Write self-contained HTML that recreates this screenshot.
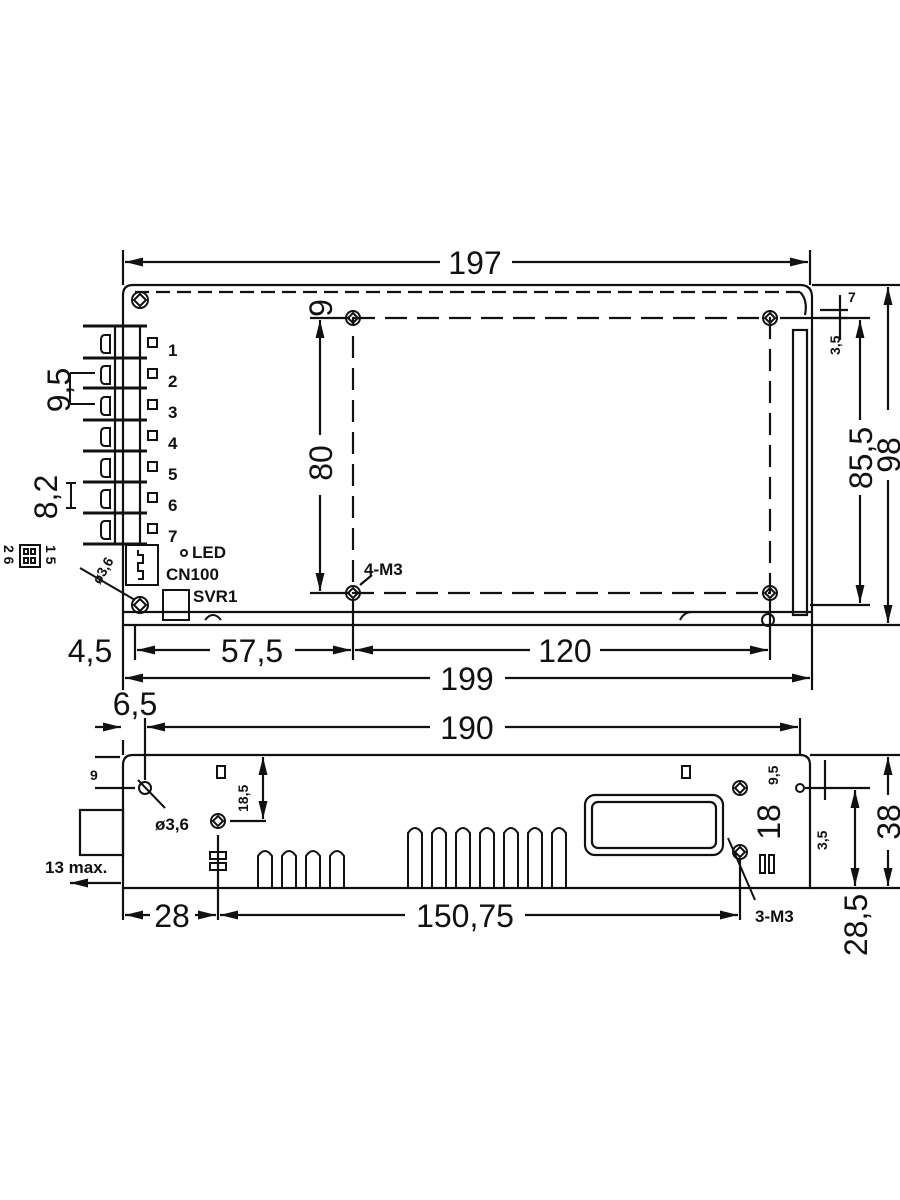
<!DOCTYPE html>
<html><head><style>body{margin:0;background:#fff}svg{display:block}text{font-family:"Liberation Sans",sans-serif;fill:#111}</style></head><body>
<svg width="900" height="1200" viewBox="0 0 900 1200" xmlns="http://www.w3.org/2000/svg">
<defs>
<marker id="a" viewBox="0 0 10 10" refX="10" refY="5" markerWidth="18" markerHeight="9" orient="auto-start-reverse" markerUnits="userSpaceOnUse" preserveAspectRatio="none"><path d="M0,0 L10,5 L0,10z" fill="#111"/></marker>
</defs>
<g stroke="#111" fill="none" stroke-width="2.2">
<path d="M123,295 Q123,285 133,285 L800,285 Q812,285 812,297 L812,625 L123,625 Z"/>
<line x1="123" y1="612" x2="812" y2="612"/>
<path d="M135,292 L800,292" stroke-dasharray="14,7"/>
<rect x="353" y="318" width="417" height="275" stroke-dasharray="22,10"/>
<rect x="793" y="330" width="14" height="285"/>
<path d="M800,292 Q808,300 805,315"/>
<g stroke-width="2">
<circle cx="140" cy="300" r="8"/><circle cx="353" cy="318" r="7"/><circle cx="770" cy="318" r="7"/>
<circle cx="353" cy="593" r="7"/><circle cx="770" cy="593" r="7"/><circle cx="140" cy="605" r="8"/>
<path d="M140,294 l6,6 l-6,6 l-6,-6z M353,313 l5,5 l-5,5 l-5,-5z M770,313 l5,5 l-5,5 l-5,-5z M353,588 l5,5 l-5,5 l-5,-5z M770,588 l5,5 l-5,5 l-5,-5z M140,599 l6,6 l-6,6 l-6,-6z"/>
<circle cx="768" cy="620" r="6"/><path d="M205,620 q8,-10 16,0"/><path d="M680,620 q4,-8 12,-8"/>
</g>
<g stroke-width="3">
<line x1="83" y1="326" x2="147" y2="326"/><line x1="83" y1="358" x2="147" y2="358"/>
<line x1="83" y1="388" x2="147" y2="388"/><line x1="83" y1="420" x2="147" y2="420"/>
<line x1="83" y1="451" x2="147" y2="451"/><line x1="83" y1="482" x2="147" y2="482"/>
<line x1="83" y1="513" x2="147" y2="513"/><line x1="83" y1="544" x2="147" y2="544"/>
</g>
<line x1="115" y1="326" x2="115" y2="544"/><line x1="140" y1="326" x2="140" y2="544"/>
<g stroke-width="2">
<path d="M110,335 h-5 q-4,0 -4,5 v8 q0,5 4,5 h5 z"/><path d="M110,366 h-5 q-4,0 -4,5 v8 q0,5 4,5 h5 z"/>
<path d="M110,397 h-5 q-4,0 -4,5 v8 q0,5 4,5 h5 z"/><path d="M110,428 h-5 q-4,0 -4,5 v8 q0,5 4,5 h5 z"/>
<path d="M110,459 h-5 q-4,0 -4,5 v8 q0,5 4,5 h5 z"/><path d="M110,490 h-5 q-4,0 -4,5 v8 q0,5 4,5 h5 z"/>
<path d="M110,521 h-5 q-4,0 -4,5 v8 q0,5 4,5 h5 z"/>
<rect x="148" y="338" width="9" height="9"/><rect x="148" y="369" width="9" height="9"/><rect x="148" y="400" width="9" height="9"/>
<rect x="148" y="431" width="9" height="9"/><rect x="148" y="462" width="9" height="9"/><rect x="148" y="493" width="9" height="9"/>
<rect x="148" y="524" width="9" height="9"/>
<rect x="126" y="545" width="32" height="40"/><path d="M138,550 v5 h5 v8 h-5 v8 h5 v8 h-5"/>
<rect x="163" y="590" width="26" height="30"/>
<circle cx="184" cy="553" r="3"/>
<line x1="70" y1="373" x2="95" y2="373"/><line x1="70" y1="404" x2="95" y2="404"/><line x1="70" y1="373" x2="70" y2="404"/>
<line x1="66" y1="483" x2="76" y2="483"/><line x1="66" y1="508" x2="76" y2="508"/><line x1="71" y1="483" x2="71" y2="508"/>
<line x1="80" y1="568" x2="135" y2="600"/>
<rect x="20" y="545" width="20" height="22"/>
<rect x="24" y="549" width="4" height="5"/><rect x="31" y="549" width="4" height="5"/><rect x="24" y="558" width="4" height="5"/><rect x="31" y="558" width="4" height="5"/>
</g>
<line x1="123" y1="250" x2="123" y2="285"/><line x1="810" y1="250" x2="810" y2="285"/>
<line x1="125" y1="262" x2="440" y2="262" marker-start="url(#a)"/><line x1="512" y1="262" x2="808" y2="262" marker-end="url(#a)"/>
<line x1="812" y1="285" x2="900" y2="285"/><line x1="812" y1="625" x2="900" y2="625"/>
<line x1="888" y1="287" x2="888" y2="410" marker-start="url(#a)"/><line x1="888" y1="480" x2="888" y2="623" marker-end="url(#a)"/>
<line x1="780" y1="318" x2="870" y2="318"/><line x1="810" y1="605" x2="870" y2="605"/>
<line x1="860" y1="320" x2="860" y2="420" marker-start="url(#a)"/><line x1="860" y1="495" x2="860" y2="603" marker-end="url(#a)"/>
<line x1="820" y1="310" x2="848" y2="310"/><line x1="820" y1="318" x2="848" y2="318"/>
<line x1="840" y1="295" x2="840" y2="340"/>
<line x1="310" y1="318" x2="350" y2="318"/><line x1="310" y1="593" x2="350" y2="593"/>
<line x1="320" y1="320" x2="320" y2="435" marker-start="url(#a)"/><line x1="320" y1="495" x2="320" y2="591" marker-end="url(#a)"/>
<line x1="123" y1="625" x2="123" y2="690"/><line x1="135" y1="625" x2="135" y2="660"/><line x1="353" y1="600" x2="353" y2="660"/>
<line x1="770" y1="600" x2="770" y2="660"/><line x1="812" y1="625" x2="812" y2="690"/>
<line x1="137" y1="650" x2="210" y2="650" marker-start="url(#a)"/><line x1="295" y1="650" x2="351" y2="650" marker-end="url(#a)"/>
<line x1="355" y1="650" x2="530" y2="650" marker-start="url(#a)"/><line x1="600" y1="650" x2="768" y2="650" marker-end="url(#a)"/>
<line x1="125" y1="678" x2="430" y2="678" marker-start="url(#a)"/><line x1="505" y1="678" x2="810" y2="678" marker-end="url(#a)"/>
<line x1="360" y1="585" x2="372" y2="575"/>
<path d="M123,765 Q123,755 133,755 L800,755 Q810,755 810,765 L810,888 L123,888 Z"/>
<rect x="80" y="810" width="43" height="45"/>
<rect x="585" y="795" width="138" height="60" rx="10"/><rect x="592" y="802" width="124" height="46" rx="6"/>
<g stroke-width="2">
<path d="M258,888 v-32 q7,-10 14,0 v32 M282,888 v-32 q7,-10 14,0 v32 M306,888 v-32 q7,-10 14,0 v32 M330,888 v-32 q7,-10 14,0 v32"/>
<path d="M408,888 v-55 q7,-10 14,0 v55 M432,888 v-55 q7,-10 14,0 v55 M456,888 v-55 q7,-10 14,0 v55 M480,888 v-55 q7,-10 14,0 v55 M504,888 v-55 q7,-10 14,0 v55 M528,888 v-55 q7,-10 14,0 v55 M552,888 v-55 q7,-10 14,0 v55"/>
<circle cx="145" cy="788" r="6"/><circle cx="218" cy="821" r="7"/><circle cx="740" cy="788" r="7"/><circle cx="740" cy="852" r="7"/>
<path d="M218,816 l5,5 l-5,5 l-5,-5z M740,783 l5,5 l-5,5 l-5,-5z M740,847 l5,5 l-5,5 l-5,-5z"/>
<circle cx="800" cy="788" r="4"/>
<rect x="210" y="852" width="16" height="7"/><rect x="210" y="863" width="16" height="7"/>
<rect x="760" y="855" width="5" height="18"/><rect x="769" y="855" width="5" height="18"/>
<rect x="217" y="766" width="8" height="12"/><rect x="682" y="766" width="8" height="12"/>
<line x1="138" y1="780" x2="165" y2="808"/><line x1="728" y1="838" x2="755" y2="900"/>
</g>
<line x1="218" y1="835" x2="218" y2="920"/>
<line x1="123" y1="740" x2="123" y2="755"/><line x1="145" y1="718" x2="145" y2="780"/><line x1="800" y1="718" x2="800" y2="755"/>
<line x1="95" y1="727" x2="121" y2="727" marker-end="url(#a)"/><line x1="147" y1="727" x2="430" y2="727" marker-start="url(#a)"/><line x1="505" y1="727" x2="798" y2="727" marker-end="url(#a)"/>
<line x1="95" y1="757" x2="120" y2="757"/><line x1="95" y1="788" x2="135" y2="788"/>
<line x1="230" y1="821" x2="266" y2="821"/><line x1="263" y1="757" x2="263" y2="819" marker-start="url(#a)" marker-end="url(#a)"/>
<line x1="70" y1="883" x2="121" y2="883" marker-start="url(#a)"/>
<line x1="123" y1="888" x2="123" y2="920"/><line x1="740" y1="860" x2="740" y2="920"/>
<line x1="125" y1="915" x2="150" y2="915" marker-start="url(#a)"/><line x1="195" y1="915" x2="216" y2="915" marker-end="url(#a)"/>
<line x1="220" y1="915" x2="405" y2="915" marker-start="url(#a)"/><line x1="525" y1="915" x2="738" y2="915" marker-end="url(#a)"/>
<line x1="810" y1="755" x2="900" y2="755"/><line x1="810" y1="888" x2="900" y2="888"/><line x1="805" y1="788" x2="870" y2="788"/>
<line x1="888" y1="757" x2="888" y2="795" marker-start="url(#a)"/><line x1="888" y1="850" x2="888" y2="886" marker-end="url(#a)"/>
<line x1="855" y1="790" x2="855" y2="886" marker-start="url(#a)" marker-end="url(#a)"/>
<line x1="825" y1="760" x2="825" y2="800"/>
</g>
<g font-size="32">
<text x="475" y="274" text-anchor="middle">197</text>
<text x="252" y="662" text-anchor="middle">57,5</text>
<text x="565" y="662" text-anchor="middle">120</text>
<text x="467" y="690" text-anchor="middle">199</text>
<text x="90" y="662" text-anchor="middle">4,5</text>
<text x="135" y="715" text-anchor="middle">6,5</text>
<text x="467" y="739" text-anchor="middle">190</text>
<text x="172" y="927" text-anchor="middle">28</text>
<text x="465" y="927" text-anchor="middle">150,75</text>
<text transform="translate(900,455) rotate(-90)" text-anchor="middle">98</text>
<text transform="translate(872,458) rotate(-90)" text-anchor="middle">85,5</text>
<text transform="translate(332,463) rotate(-90)" text-anchor="middle">80</text>
<text transform="translate(332,308) rotate(-90)" text-anchor="middle">9</text>
<text transform="translate(900,822) rotate(-90)" text-anchor="middle">38</text>
<text transform="translate(867,925) rotate(-90)" text-anchor="middle">28,5</text>
<text transform="translate(780,822) rotate(-90)" text-anchor="middle">18</text>
<text transform="translate(70,390) rotate(-90)" text-anchor="middle">9,5</text>
<text transform="translate(57,497) rotate(-90)" text-anchor="middle">8,2</text>
</g>
<g font-size="17" font-weight="bold">
<text x="168" y="356">1</text><text x="168" y="387">2</text><text x="168" y="418">3</text><text x="168" y="449">4</text>
<text x="168" y="480">5</text><text x="168" y="511">6</text><text x="168" y="542">7</text>
<text x="192" y="558">LED</text><text x="166" y="580">CN100</text><text x="193" y="602">SVR1</text>
<text x="364" y="575">4-M3</text><text x="155" y="830">ø3,6</text><text x="45" y="873">13 max.</text>
<text x="755" y="922">3-M3</text>
</g>
<g font-size="14" font-weight="bold">
<text x="90" y="780">9</text>
<text x="848" y="302">7</text>
<text transform="translate(840,355) rotate(-90)">3,5</text>
<text transform="translate(827,850) rotate(-90)">3,5</text>
<text transform="translate(778,785) rotate(-90)">9,5</text>
<text transform="translate(248,812) rotate(-90)">18,5</text>
<text transform="translate(100,585) rotate(-60)">ø3,6</text>
<text transform="translate(46,545) rotate(90)">1 5</text>
<text transform="translate(4,545) rotate(90)">2 6</text>
</g>
</svg>
</body></html>
